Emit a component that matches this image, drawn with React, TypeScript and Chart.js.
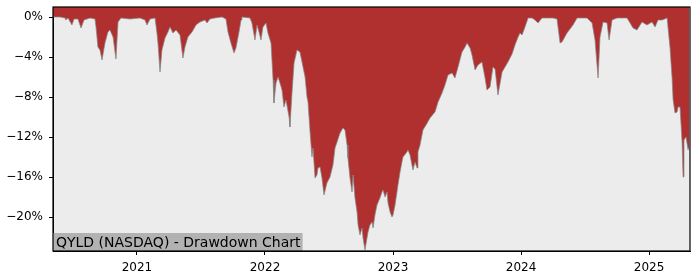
import React, { useEffect, useRef } from "react";
import { Chart, registerables } from "chart.js";

Chart.register(...registerables);

// Dates as decimal years
const dates: number[] = [
  2020.344, 2020.398, 2020.438, 2020.445, 2020.461, 2020.492, 2020.508, 2020.539, 2020.563, 2020.586,
  2020.633, 2020.672, 2020.680, 2020.695, 2020.711, 2020.727, 2020.750, 2020.773, 2020.789, 2020.813,
  2020.836, 2020.852, 2020.875, 2020.945, 2021.023, 2021.063, 2021.078, 2021.102, 2021.141, 2021.156,
  2021.164, 2021.180, 2021.195, 2021.219, 2021.242, 2021.258, 2021.281, 2021.305, 2021.336, 2021.359,
  2021.375, 2021.398, 2021.430, 2021.461, 2021.492, 2021.531, 2021.547, 2021.570, 2021.609, 2021.664,
  2021.695, 2021.711, 2021.734, 2021.758, 2021.773, 2021.797, 2021.813, 2021.820, 2021.883, 2021.898,
  2021.922, 2021.938, 2021.953, 2021.969, 2021.984, 2022.008, 2022.023, 2022.047, 2022.063, 2022.070,
  2022.086, 2022.102, 2022.117, 2022.133, 2022.148, 2022.164, 2022.188, 2022.195, 2022.211, 2022.227,
  2022.250, 2022.273, 2022.289, 2022.313, 2022.328, 2022.336, 2022.352, 2022.367, 2022.375, 2022.391,
  2022.406, 2022.414, 2022.430, 2022.445, 2022.461, 2022.484, 2022.508, 2022.531, 2022.547, 2022.563,
  2022.586, 2022.609, 2022.625, 2022.641, 2022.648, 2022.664, 2022.680, 2022.688, 2022.703, 2022.719,
  2022.727, 2022.742, 2022.758, 2022.766, 2022.781, 2022.797, 2022.805, 2022.820, 2022.836, 2022.844,
  2022.859, 2022.875, 2022.898, 2022.914, 2022.922, 2022.938, 2022.953, 2022.961, 2022.977, 2022.992,
  2023.000, 2023.016, 2023.031, 2023.039, 2023.055, 2023.070, 2023.078, 2023.109, 2023.117, 2023.133,
  2023.148, 2023.156, 2023.172, 2023.188, 2023.195, 2023.211, 2023.234, 2023.258, 2023.289, 2023.328,
  2023.352, 2023.383, 2023.406, 2023.430, 2023.461, 2023.484, 2023.508, 2023.539, 2023.563, 2023.578,
  2023.602, 2023.617, 2023.641, 2023.664, 2023.695, 2023.719, 2023.734, 2023.758, 2023.781, 2023.797,
  2023.820, 2023.852, 2023.875, 2023.898, 2023.930, 2023.953, 2023.977, 2023.992, 2024.008, 2024.031,
  2024.055, 2024.086, 2024.109, 2024.133, 2024.164, 2024.203, 2024.250, 2024.281, 2024.305, 2024.320,
  2024.359, 2024.406, 2024.438, 2024.516, 2024.555, 2024.578, 2024.602, 2024.617, 2024.641, 2024.672,
  2024.688, 2024.711, 2024.750, 2024.828, 2024.852, 2024.875, 2024.906, 2024.945, 2024.984, 2025.023,
  2025.047, 2025.070, 2025.102, 2025.141, 2025.164, 2025.180, 2025.188, 2025.203, 2025.219, 2025.227,
  2025.242, 2025.258, 2025.266, 2025.273, 2025.289, 2025.305, 2025.313,
];

// Drawdown in percent
const drawdown: number[] = [
  0, 0, -0.1, -0.3, -0.1, -0.8, -0.2, -0.2, -1.1, -0.3,
  -0.1, -0.2, -1.0, -3.0, -3.3, -4.3, -2.6, -1.5, -1.3, -2.0,
  -4.2, -0.5, -0.1, -0.2, -0.1, -0.3, -0.8, -0.2, -0.1, -1.6,
  -2.6, -5.5, -3.3, -2.1, -1.5, -1.0, -1.6, -1.3, -1.8, -4.1,
  -3.0, -2.0, -1.5, -0.8, -0.5, -0.3, -0.6, -0.2, -0.1, 0,
  -0.2, -1.5, -2.6, -3.6, -3.1, -1.5, -0.3, 0, -0.1, -0.6,
  -2.3, -0.8, -1.5, -2.3, -1.0, -0.6, -1.6, -2.6, -6.3, -8.6,
  -6.6, -6.0, -6.6, -7.3, -9.0, -8.3, -10.0, -11.0, -7.6, -4.6,
  -3.3, -3.5, -4.5, -6.0, -8.0, -8.5, -11.5, -14.0, -13.1, -16.1,
  -15.8, -15.1, -15.0, -16.1, -17.8, -16.6, -16.0, -14.8, -13.1, -12.5,
  -11.6, -11.1, -11.3, -12.8, -14.1, -16.1, -17.5, -15.8, -18.1, -19.5,
  -20.8, -21.8, -21.1, -22.1, -23.3, -22.1, -21.5, -20.8, -20.5, -21.1,
  -19.8, -18.8, -18.1, -17.5, -17.3, -18.0, -17.5, -18.6, -19.5, -20.0,
  -19.8, -18.8, -17.5, -16.8, -15.5, -14.5, -14.0, -13.5, -13.3, -13.8,
  -14.8, -15.3, -14.5, -15.1, -13.5, -12.8, -11.3, -10.8, -10.1, -9.5,
  -8.5, -7.6, -6.8, -5.8, -5.6, -6.1, -5.0, -3.5, -3.0, -2.6,
  -3.1, -3.8, -5.3, -4.8, -4.5, -6.1, -7.3, -7.0, -5.0, -5.2,
  -7.8, -5.5, -5.0, -4.5, -3.7, -2.8, -2.0, -1.6, -1.8, -1.0,
  -0.1, -0.1, -0.3, -0.6, -0.1, -0.1, -0.1, -0.2, -2.6, -2.5,
  -1.6, -0.8, -0.1, -0.1, -0.6, -2.3, -6.1, -2.0, -0.5, -0.6,
  -2.3, -0.3, -0.1, -0.1, -0.6, -1.1, -1.3, -0.5, -0.8, -0.5,
  -1.0, -0.3, -0.3, -0.1, -3.1, -6.1, -8.3, -9.6, -9.5, -9.0,
  -9.0, -12.5, -16.0, -12.3, -12.0, -13.3, -13.0,
];

const yTicks: number[] = [0, -4, -8, -12, -16, -20];
const xTicks: number[] = [2021, 2022, 2023, 2024, 2025];
const xMin = 2020.344;
const xMax = 2025.32;
const yMin = -23.4;
const yMax = 1.0;
const titleText = "QYLD (NASDAQ) - Drawdown Chart";

const FONT = "'DejaVu Sans', sans-serif";

const framePlugin = {
  id: "frame",
  beforeDraw(chart: any) {
    const { ctx, chartArea: a } = chart;
    ctx.save();
    ctx.fillStyle = "#ececec";
    ctx.fillRect(a.left, a.top, a.right - a.left, a.bottom - a.top);
    ctx.restore();
  },
  afterDatasetsDraw(chart: any) {
    const { ctx, chartArea: a } = chart;
    ctx.save();
    ctx.font = `14px ${FONT}`;
    const w = ctx.measureText(titleText).width;
    const boxH = 18;
    ctx.fillStyle = "#b2b2b2";
    ctx.fillRect(a.left, a.bottom - boxH, w + 5, boxH);
    ctx.fillStyle = "#000";
    ctx.textBaseline = "alphabetic";
    ctx.textAlign = "left";
    ctx.fillText(titleText, a.left + 3, a.bottom - 4);
    ctx.strokeStyle = "#000";
    ctx.lineWidth = 1.2;
    ctx.strokeRect(a.left, a.top, a.right - a.left, a.bottom - a.top);
    ctx.restore();
  },
};

export default function App() {
  const ref = useRef<HTMLCanvasElement | null>(null);
  useEffect(() => {
    if (!ref.current) return;
    const chart = new Chart(ref.current, {
      type: "line",
      data: {
        datasets: [
          {
            data: dates.map((d, i) => ({ x: d, y: drawdown[i] })),
            borderColor: "rgba(135,135,135,0.8)",
            borderWidth: 0.9,
            backgroundColor: "#b03030",
            fill: "end",
            pointRadius: 0,
            tension: 0,
          },
        ],
      },
      options: {
        animation: false,
        responsive: false,
        layout: { padding: { top: 7, right: 10, left: 0, bottom: 0 } },
        plugins: { legend: { display: false }, tooltip: { enabled: false } },
        scales: {
          x: {
            type: "linear",
            min: xMin,
            max: xMax,
            afterBuildTicks: (s: any) => {
              s.ticks = xTicks.map((v) => ({ value: v }));
            },
            afterFit: (s: any) => {
              s.height = 29;
              s.paddingLeft = 0;
              s.paddingRight = 0;
            },
            grid: { drawOnChartArea: false, drawTicks: true, tickLength: 4, color: "#000" },
            border: { display: true, color: "#000" },
            ticks: {
              color: "#000",
              font: { family: FONT, size: 12 },
              padding: 6,
              maxRotation: 0,
              autoSkip: false,
              callback: (v: any) => String(v),
            },
          },
          y: {
            type: "linear",
            min: yMin,
            max: yMax,
            afterBuildTicks: (s: any) => {
              s.ticks = yTicks.map((v) => ({ value: v }));
            },
            afterFit: (s: any) => {
              s.width = 53;
              s.paddingTop = 0;
              s.paddingBottom = 0;
            },
            grid: { drawOnChartArea: false, drawTicks: true, tickLength: 4, color: "#000" },
            border: { display: true, color: "#000" },
            ticks: {
              color: "#000",
              font: { family: FONT, size: 12 },
              padding: 6,
              autoSkip: false,
              callback: (v: any) => (v === 0 ? "0%" : "\u2212" + Math.abs(v) + "%"),
            },
          },
        },
      },
      plugins: [framePlugin],
    } as any);
    return () => chart.destroy();
  }, []);
  return (
    <div style={{ position: "absolute", left: 0, top: 0, width: 700, height: 280, background: "#fff" }}>
      <canvas ref={ref} width={700} height={280} style={{ display: "block" }} />
    </div>
  );
}
